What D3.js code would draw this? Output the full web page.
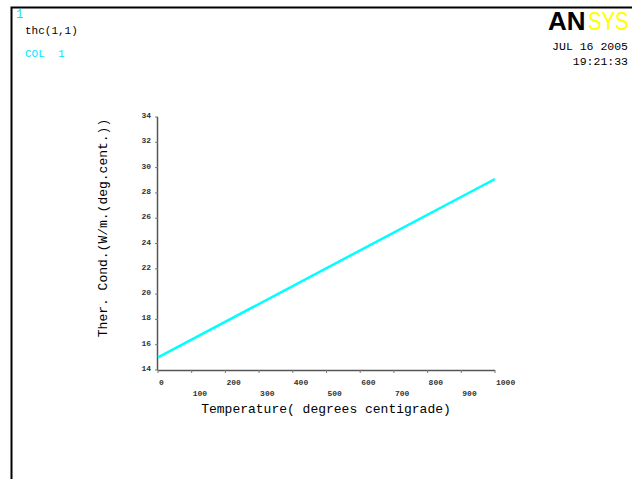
<!DOCTYPE html>
<html lang="en">
<head>
  <meta charset="UTF-8">
  <title>thc(1,1)</title>
  <style>
    body {
      margin: 0;
      background: #fff;
    }
    svg {
      display: block;
    }
    .mono {
      font-family: "Liberation Mono", "DejaVu Sans Mono", monospace;
    }
    .tick-label {
      font-family: "Liberation Mono", monospace;
      font-size: 8px;
      font-weight: bold;
      fill: #333;
    }
    .logo {
      font-family: "Liberation Sans", Arial, sans-serif;
      font-size: 26px;
    }
  </style>
</head>
<body>
  <svg id="chart" width="632" height="479"></svg>

  <script src="https://d3js.org/d3.v7.min.js"></script>
  <script>
    // data
    const temps = [0, 1000];
    const thc = [15.0, 29.1];
    const xTicks = [0, 100, 200, 300, 400, 500, 600, 700, 800, 900, 1000];
    const yTicks = [14, 16, 18, 20, 22, 24, 26, 28, 30, 32, 34];

    const svg = d3.select("#chart");

    // window frame
    svg.append("path")
      .attr("d", "M11.5,479 V7.5 H632")
      .attr("fill", "none")
      .attr("stroke", "#000")
      .attr("stroke-width", 2);

    // header texts
    svg.append("text").attr("class", "mono")
      .attr("x", 16).attr("y", 18)
      .attr("font-size", 12).attr("fill", "#00e5ff")
      .text("1");
    svg.append("text").attr("class", "mono")
      .attr("x", 25).attr("y", 34)
      .attr("font-size", 11).attr("fill", "#000")
      .text("thc(1,1)");
    svg.append("text").attr("class", "mono")
      .attr("x", 25).attr("y", 57)
      .attr("font-size", 11).attr("fill", "#00e5ff")
      .attr("xml:space", "preserve")
      .text("COL  1");

    // logo in two parts; SYS narrowed so it stays inside the window
    svg.append("text").attr("class", "logo")
      .attr("x", 548).attr("y", 30)
      .attr("font-weight", "bold")
      .attr("fill", "#000")
      .text("AN");
    svg.append("text").attr("class", "logo")
      .attr("transform", "translate(588,30) scale(0.78,1)")
      .attr("fill", "#ffff00")
      .text("SYS");

    svg.append("text").attr("class", "mono")
      .attr("x", 628).attr("y", 50)
      .attr("text-anchor", "end")
      .attr("font-size", 11.5).attr("fill", "#000")
      .text("JUL 16 2005");
    svg.append("text").attr("class", "mono")
      .attr("x", 628).attr("y", 65)
      .attr("text-anchor", "end")
      .attr("font-size", 11.5).attr("fill", "#000")
      .text("19:21:33");

    // plot area
    const plotL = 158, plotR = 495, plotT = 117, plotB = 370;
    const x = d3.scaleLinear().domain([0, 1000]).range([plotL, plotR]);
    const y = d3.scaleLinear().domain([14, 34]).range([plotB, plotT]);

    // axes lines
    svg.append("line")
      .attr("x1", plotL).attr("x2", plotR)
      .attr("y1", plotB + 0.5).attr("y2", plotB + 0.5)
      .attr("stroke", "#555").attr("stroke-width", 1.5);
    svg.append("line")
      .attr("x1", plotL - 0.5).attr("x2", plotL - 0.5)
      .attr("y1", plotT).attr("y2", plotB)
      .attr("stroke", "#555").attr("stroke-width", 1.5);

    // x ticks
    svg.selectAll(".xtick").data(xTicks).join("line")
      .attr("class", "xtick")
      .attr("x1", d => x(d)).attr("x2", d => x(d))
      .attr("y1", plotB).attr("y2", plotB + 3)
      .attr("stroke", "#777");
    svg.selectAll(".xlab").data(xTicks).join("text")
      .attr("class", "xlab tick-label")
      .attr("x", d => x(d) + 1)
      .attr("y", (d, i) => i % 2 === 0 ? plotB + 15 : plotB + 26)
      .text(d => d);

    // y ticks
    svg.selectAll(".ytick").data(yTicks).join("line")
      .attr("class", "ytick")
      .attr("x1", plotL - 3).attr("x2", plotL)
      .attr("y1", d => y(d)).attr("y2", d => y(d))
      .attr("stroke", "#777");
    svg.selectAll(".ylab").data(yTicks).join("text")
      .attr("class", "ylab tick-label")
      .attr("x", plotL - 7)
      .attr("y", d => y(d) + 1)
      .attr("text-anchor", "end")
      .text(d => d);

    // axis titles
    svg.append("text").attr("class", "mono")
      .attr("x", 326).attr("y", 413)
      .attr("text-anchor", "middle")
      .attr("font-size", 13).attr("fill", "#000")
      .text("Temperature( degrees centigrade)");
    svg.append("text").attr("class", "mono")
      .attr("transform", "translate(107,228) rotate(-90)")
      .attr("text-anchor", "middle")
      .attr("font-size", 13).attr("fill", "#000")
      .text("Ther. Cond.(W/m.(deg.cent.))");

    // curve
    const line = d3.line()
      .x((d, i) => x(temps[i]))
      .y(d => y(d));
    svg.append("path")
      .datum(thc)
      .attr("fill", "none")
      .attr("stroke", "#00ffff")
      .attr("stroke-width", 2.5)
      .attr("d", line);
  </script>
</body>
</html>
